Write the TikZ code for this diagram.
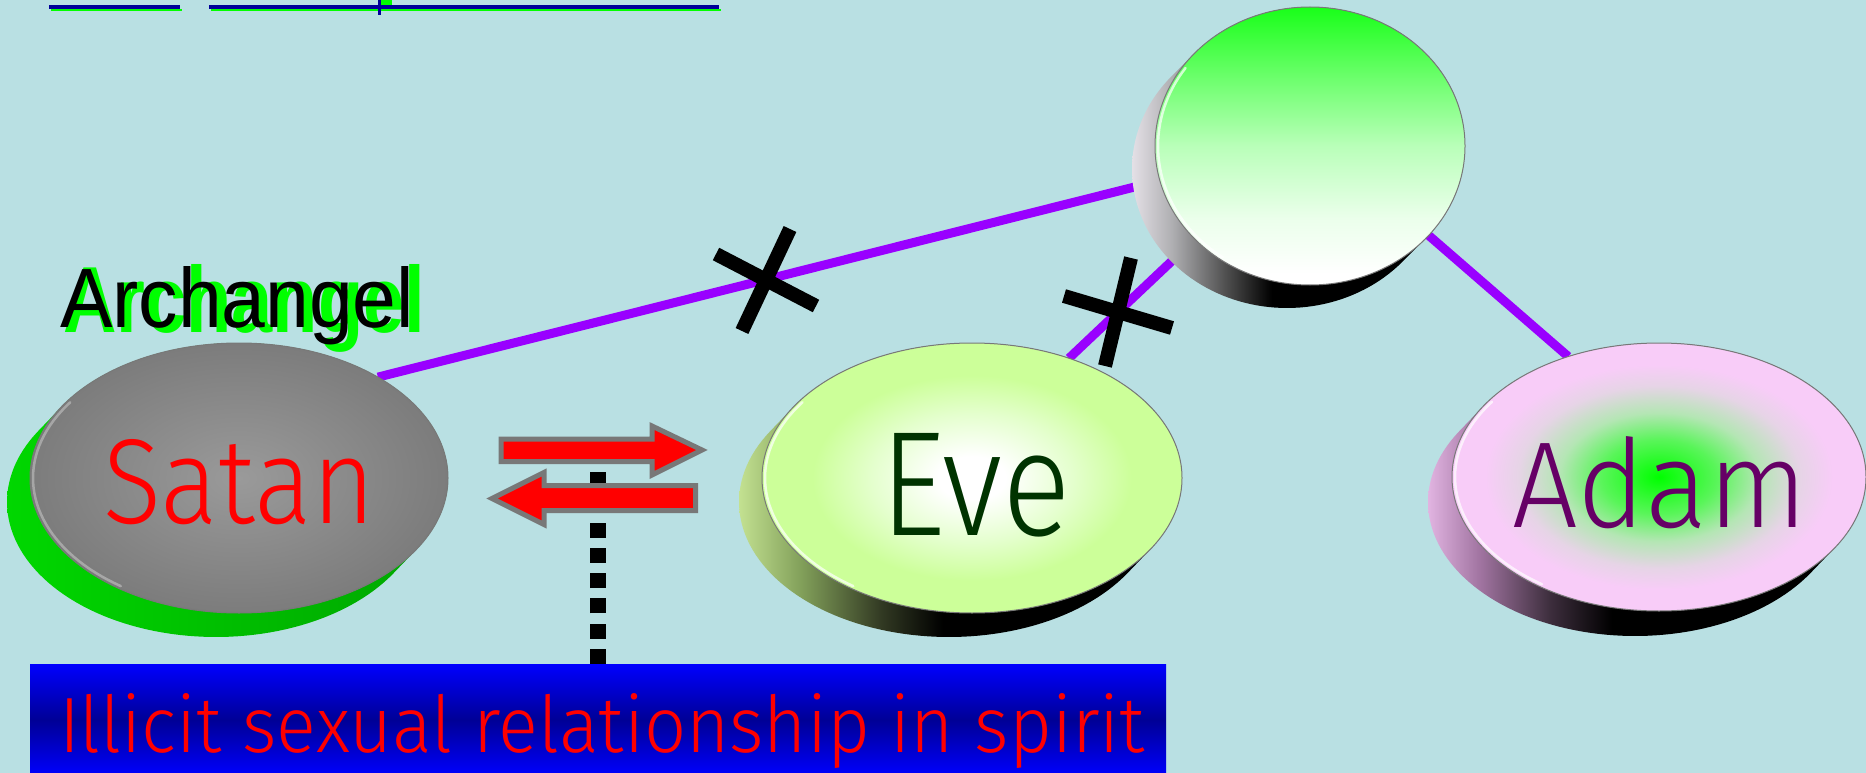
\documentclass[tikz,border=0pt]{standalone}
\usepackage{fontspec}
\usepackage{graphicx}
\IfFontExistsTF{Fira Sans Light}{\newfontfamily\lightfont{Fira Sans Light}}{\newfontfamily\lightfont{Fira Sans}}
\newfontfamily\archfont{Liberation Sans}
\usetikzlibrary{shapes.geometric}
\definecolor{bgc}{RGB}{185,224,227}
\definecolor{linkc}{RGB}{153,0,255}
\definecolor{navyu}{RGB}{0,0,153}
\definecolor{shgreen}{RGB}{0,255,0}
\definecolor{facerim}{RGB}{120,120,120}
\definecolor{arrgray}{RGB}{120,120,120}
\definecolor{boxblue}{RGB}{0,0,255}
\definecolor{boxnavy}{RGB}{0,0,150}
\definecolor{evetext}{RGB}{0,51,0}
\definecolor{adamtext}{RGB}{102,0,102}
\definecolor{satrim}{RGB}{185,185,185}
% extrusion colours
\definecolor{satEa}{RGB}{0,215,0}
\definecolor{satEb}{RGB}{0,190,0}
\definecolor{satEc}{RGB}{0,165,0}
\definecolor{eveEa}{RGB}{195,225,145}
\definecolor{eveEb}{RGB}{130,160,90}
\definecolor{eveEc}{RGB}{50,58,35}
\definecolor{godEa}{RGB}{228,224,230}
\definecolor{godEb}{RGB}{175,175,178}
\definecolor{godEc}{RGB}{80,80,80}
\definecolor{adEa}{RGB}{225,180,225}
\definecolor{adEb}{RGB}{160,115,160}
\definecolor{adEc}{RGB}{60,45,60}
% face colours
\definecolor{satA}{RGB}{154,154,154}
\definecolor{satB}{RGB}{124,124,124}
\definecolor{eveFa}{RGB}{228,255,205}
\definecolor{eveFb}{RGB}{204,255,153}
\definecolor{adGa}{RGB}{0,255,0}
\definecolor{adGb}{RGB}{90,245,90}
\definecolor{adGc}{RGB}{180,230,180}
\definecolor{adGd}{RGB}{230,212,230}
\definecolor{adP}{RGB}{248,204,248}
\definecolor{gFa}{RGB}{235,255,235}
\definecolor{gFb}{RGB}{185,255,185}
\definecolor{gFc}{RGB}{110,255,110}
\definecolor{gFd}{RGB}{25,255,25}
\pgfdeclarehorizontalshading{satext}{100bp}{color(0bp)=(satEa); color(25bp)=(satEa); color(50bp)=(satEb); color(75bp)=(satEc); color(100bp)=(satEc)}
\pgfdeclarehorizontalshading{eveext}{100bp}{color(0bp)=(eveEa); color(25bp)=(eveEa); color(32bp)=(eveEb); color(41bp)=(eveEc); color(48bp)=(black); color(100bp)=(black)}
\pgfdeclarehorizontalshading{godext}{100bp}{color(0bp)=(godEa); color(25bp)=(godEa); color(31bp)=(godEb); color(39bp)=(godEc); color(46bp)=(black); color(100bp)=(black)}
\pgfdeclarehorizontalshading{adext}{100bp}{color(0bp)=(adEa); color(25bp)=(adEa); color(31bp)=(adEb); color(39bp)=(adEc); color(46bp)=(black); color(100bp)=(black)}
\pgfdeclareradialshading{satface}{\pgfpoint{0bp}{0bp}}{color(0bp)=(satA); color(25bp)=(satB); color(50bp)=(satB)}
\pgfdeclareradialshading{eveface}{\pgfpoint{0bp}{0bp}}{color(0bp)=(white); color(4bp)=(white); color(12bp)=(eveFa); color(19bp)=(eveFb); color(50bp)=(eveFb)}
\pgfdeclareradialshading{adface}{\pgfpoint{0bp}{0bp}}{color(0bp)=(adGa); color(7bp)=(adGb); color(12bp)=(adGc); color(17bp)=(adGd); color(21bp)=(adP); color(50bp)=(adP)}
\pgfdeclareverticalshading{godface}{100bp}{color(0bp)=(white); color(27bp)=(white); color(37bp)=(gFa); color(50bp)=(gFb); color(62bp)=(gFc); color(75bp)=(gFd); color(100bp)=(gFd)}
\pgfdeclarelayer{back}
\pgfdeclarelayer{links}
\pgfsetlayers{back,links,main}
% extrusion: cx cy rx ry dx dy shading
\newcommand\mkextr[7]{%
  \pgfmathsetmacro\extA{atan(-((#4)*(#5))/((#3)*(#6)))}%
  \pgfmathsetmacro\extB{\extA+180}%
  \pgfmathsetmacro\extC{\extA+360}%
  \path[shade, shading=#7] plot[domain=\extA:\extB, samples=80, variable=\q] ({#1+(#5)+(#3)*cos(\q)},{#2+(#6)+(#4)*sin(\q)}) -- plot[domain=\extB:\extC, samples=80, variable=\q] ({#1+(#3)*cos(\q)},{#2+(#4)*sin(\q)}) -- cycle;}
% rim highlight: cx cy rx ry colour
\newcommand\mkrim[5]{%
  \draw[#5, line width=2.5pt, line cap=round, opacity=.7] plot[domain=125:215, samples=40, variable=\q] ({#1+(#3-3)*cos(\q)},{#2+(#4-3)*sin(\q)});}
\begin{document}
\begin{tikzpicture}[x=1pt, y=-1pt,
  facenode/.style={ellipse, draw=facerim, line width=1pt, inner sep=0pt, outer sep=0pt, shade},
  linkline/.style={draw=linkc, line width=9pt},
  xmark/.style={draw=black, line width=14pt},
  redarr/.style={fill=red, draw=arrgray, line width=5pt, line join=miter},
  dotline/.style={draw=black, line width=16pt, dash pattern=on 15pt off 10.3pt},
  txt/.style={anchor=base west, inner sep=0pt, outer sep=0pt}]
\begin{pgfonlayer}{back}
  \fill[bgc] (0,0) rectangle (1866,773);
\end{pgfonlayer}
\useasboundingbox (0,0) rectangle (1866,773);
% cut-off heading underlines
\fill[shgreen] (51,9) rectangle (182,11);
\fill[navyu] (49,5) rectangle (180,9);
\fill[shgreen] (211,9) rectangle (721,11);
\fill[navyu] (209,5) rectangle (719,9);
\fill[navyu] (378,0) rectangle (381,15);
\fill[shgreen] (381,0) rectangle (392,5);
% Satan
\mkextr{239}{478}{209}{135}{-23}{24}{satext}
\node[facenode, shading=satface, minimum width=418pt, minimum height=270pt] (satan) at (239,478) {};
\mkrim{239}{478}{209}{135}{satrim}
% God (top)
\mkextr{1310}{146}{155}{139}{-23}{23}{godext}
\node[facenode, shading=godface, minimum width=310pt, minimum height=278pt] (god) at (1310,146) {};
\mkrim{1310}{146}{155}{139}{white}
% Eve
\mkextr{972}{478}{210}{135}{-23}{24}{eveext}
\node[facenode, shading=eveface, minimum width=420pt, minimum height=270pt] (eve) at (972,478) {};
\mkrim{972}{478}{210}{135}{white}
% Adam
\mkextr{1659}{477}{207}{134}{-24}{25}{adext}
\node[facenode, shading=adface, minimum width=414pt, minimum height=268pt] (adam) at (1659,477) {};
\mkrim{1659}{477}{207}{134}{white}
% links
\begin{pgfonlayer}{links}
  \draw[linkline] (satan.36) -- (god.193);
  \draw[linkline] (eve.51) -- (god.219);
  \draw[linkline] (god.323) -- (adam.127);
\end{pgfonlayer}
% crosses
\draw[xmark] (790,229) -- (742,331);
\draw[xmark] (716,254) -- (816,306);
\draw[xmark] (1131,258) -- (1105,366);
\draw[xmark] (1064,296) -- (1172,328);
% labels
\node[txt, text=shgreen] (archshadow) at (63,332) {\resizebox{362pt}{68pt}{\archfont\bfseries Archangel}};
\node[txt, text=black] (archangel) at (60,327) {\resizebox{354pt}{61pt}{\archfont Archangel}};
\node[txt, text=red] (satanlbl) at (103,523) {\resizebox{272pt}{84pt}{\lightfont Satan}};
\node[txt, text=evetext] (evelbl) at (880,535) {\resizebox{191pt}{102pt}{\lightfont Eve}};
\node[txt, text=adamtext] (adamlbl) at (1512,527) {\resizebox{295pt}{91pt}{\lightfont Adam}};
% bottom box
\node[rectangle, inner sep=0pt, outer sep=0pt, minimum width=1136pt, minimum height=112pt, anchor=north west, top color=boxblue, bottom color=boxblue, middle color=boxnavy] (box) at (30,664) {};
\node[txt, text=red] (boxtext) at (59,752) {\resizebox{1086pt}{59pt}{\lightfont Illicit sexual relationship in spirit}};
% dotted connector
\coordinate (dottop) at (598,467);
\draw[dotline] (box.north -| dottop) -- (dottop);
% red arrows
\filldraw[redarr] (501,439) -- (652,439) -- (652,426) -- (702,450) -- (652,475) -- (652,461.5) -- (501,461.5) -- cycle;
\filldraw[redarr] (695.5,485.5) -- (544,485.5) -- (544,472.5) -- (492,498.5) -- (544,524.5) -- (544,510.5) -- (695.5,510.5) -- cycle;
\end{tikzpicture}
\end{document}
